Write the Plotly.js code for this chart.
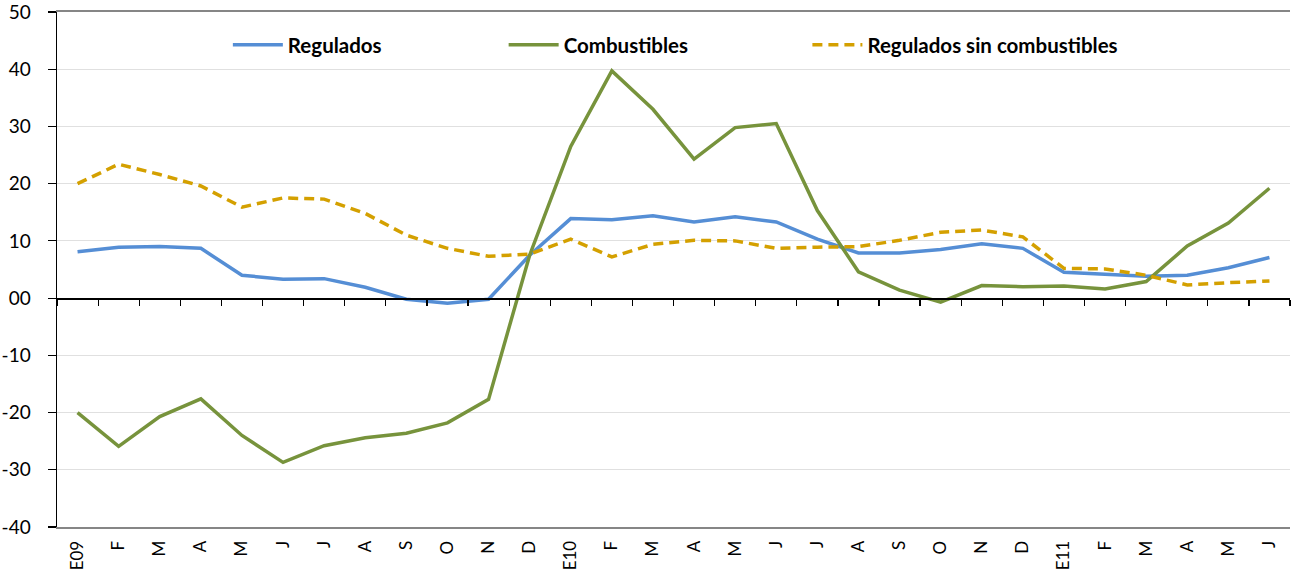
<!DOCTYPE html>
<html>
<head>
<meta charset="utf-8">
<script src="https://cdn.plot.ly/plotly-3.0.1.min.js"></script>
<style>html,body{margin:0;padding:0;background:#fff;}#chart{width:1291px;height:577px;}</style>
</head>
<body>
<div id="chart"></div>
<script>
const monthLabels = ["E09","F","M","A","M","J","J","A","S","O","N","D","E10","F","M","A","M","J","J","A","S","O","N","D","E11","F","M","A","M","J"];
const regulados = [8.1,8.9,9.0,8.7,4.0,3.3,3.4,1.9,-0.2,-0.9,-0.2,7.5,13.9,13.7,14.4,13.3,14.2,13.3,10.3,7.9,7.9,8.5,9.5,8.7,4.5,4.2,3.8,4.0,5.3,7.1];
const combustibles = [-20.0,-25.9,-20.7,-17.6,-24.0,-28.7,-25.8,-24.4,-23.6,-21.8,-17.7,7.5,26.5,39.7,33.0,24.3,29.8,30.5,15.3,4.6,1.4,-0.7,2.2,2.0,2.1,1.6,2.9,9.1,13.1,19.2];
const reguladosSinComb = [20.0,23.4,21.6,19.6,15.9,17.5,17.3,14.8,11.0,8.7,7.3,7.7,10.3,7.2,9.4,10.1,10.0,8.7,8.9,9.0,10.1,11.5,11.9,10.7,5.2,5.1,4.0,2.3,2.7,3.0];
const yTickVals = [50,40,30,20,10,0,-10,-20,-30,-40];
const yTickText = ["50","40","30","20","10","00","-10","-20","-30","-40"];

const idx = monthLabels.map((_, i) => i);
const boundaries = monthLabels.map((_, i) => i - 0.5).concat([monthLabels.length - 0.5]);

const FONT = "Lato, 'Open Sans', sans-serif";

const traces = [
  {x: idx, y: regulados, name: "Regulados", type: "scatter", mode: "lines",
   line: {color: "#558ED5", width: 3.5}, legend: "legend"},
  {x: idx, y: combustibles, name: "Combustibles", type: "scatter", mode: "lines",
   line: {color: "#77933C", width: 3.5}, legend: "legend2"},
  {x: idx, y: reguladosSinComb, name: "Regulados sin combustibles", type: "scatter", mode: "lines",
   line: {color: "#D4A000", width: 3.5, dash: "10px,6px"}, legend: "legend3"},
  {x: idx, y: idx.map(() => null), xaxis: "x2", type: "scatter", mode: "lines",
   showlegend: false, hoverinfo: "skip"}
];

const legendCommon = {orientation: "h", yanchor: "middle", y: 0.936, xanchor: "left",
  font: {family: FONT, size: 20.5, color: "#000", weight: "bold"}, bgcolor: "rgba(0,0,0,0)", borderwidth: 0, itemwidth: 50};

const layout = {
  width: 1291, height: 577,
  margin: {l: 57, r: 1, t: 12, b: 50},
  paper_bgcolor: "#fff", plot_bgcolor: "#fff",
  font: {family: FONT, size: 16, color: "#000"},
  xaxis: {range: [-0.5, monthLabels.length - 0.5], tickmode: "array", tickvals: idx, ticktext: monthLabels,
    tickangle: -90, ticks: "", showgrid: false, zeroline: false, showline: true, linecolor: "#868686",
    linewidth: 2, mirror: true, ticklabelstandoff: 5, tickfont: {family: FONT, size: 17, color: "#000"}, fixedrange: true},
  xaxis2: {overlaying: "x", matches: "x", anchor: "free", position: 40/90, side: "bottom",
    range: [-0.5, monthLabels.length - 0.5], tickmode: "array", tickvals: boundaries, ticks: "outside",
    ticklen: 6, tickcolor: "#000", tickwidth: 1.2, showticklabels: false, showgrid: false, zeroline: false,
    showline: true, linecolor: "#000", linewidth: 1.5},
  yaxis: {range: [-40, 50], tickmode: "array", tickvals: yTickVals, ticktext: yTickText, ticks: "outside",
    ticklen: 8, tickcolor: "#000", tickwidth: 1.2, showline: true, linecolor: "#000", linewidth: 1.5,
    ticklabelstandoff: 13, ticklabeloverflow: "allow",
    gridcolor: "#e0e0e0", gridwidth: 1, zeroline: false, tickfont: {family: FONT, size: 19, color: "#000"}},
  showlegend: true,
  legend: Object.assign({}, legendCommon, {x: (228 - 57) / 1234}),
  legend2: Object.assign({}, legendCommon, {x: (504 - 57) / 1234}),
  legend3: Object.assign({}, legendCommon, {x: (808 - 57) / 1234})
};

Plotly.newPlot("chart", traces, layout, {displayModeBar: false, staticPlot: true});
</script>
</body>
</html>
